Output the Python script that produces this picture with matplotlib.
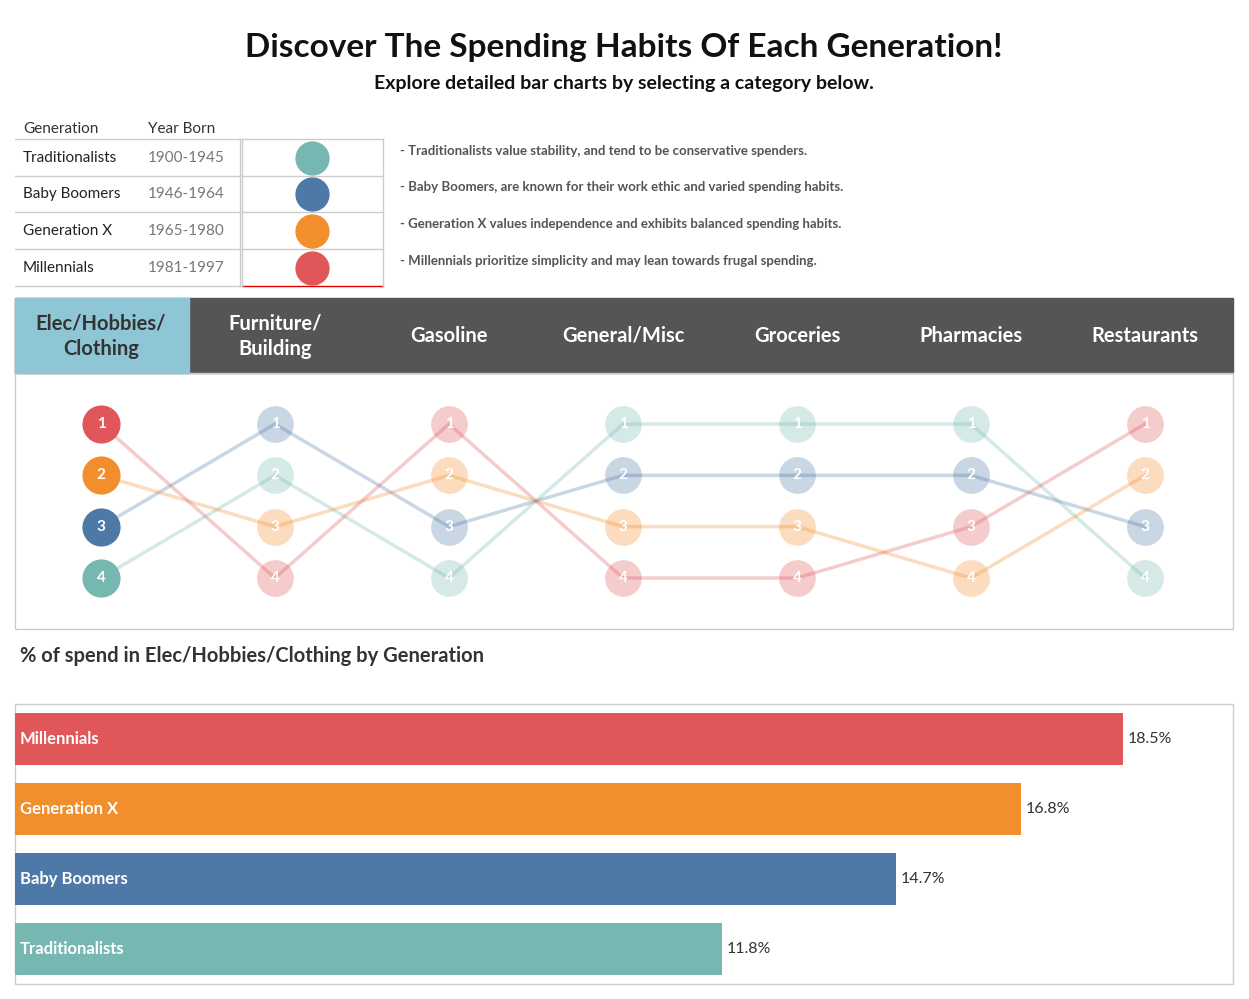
import matplotlib
matplotlib.use("Agg")
import matplotlib.pyplot as plt
from matplotlib.patches import Rectangle
from matplotlib.lines import Line2D

generations = ["Traditionalists", "Baby Boomers", "Generation X", "Millennials"]
years = ["1900-1945", "1946-1964", "1965-1980", "1981-1997"]
colors = ["#76B7B2", "#4E79A7", "#F28E2B", "#E15759"]
descriptions = [
    "- Traditionalists value stability, and tend to be conservative spenders.",
    "- Baby Boomers, are known for their work ethic and varied spending habits.",
    "- Generation X values independence and exhibits balanced spending habits.",
    "- Millennials prioritize simplicity and may lean towards frugal spending.",
]
categories = ["Elec/Hobbies/\nClothing", "Furniture/\nBuilding", "Gasoline", "General/Misc",
              "Groceries", "Pharmacies", "Restaurants"]
# ranks per generation (Trad, Boomers, GenX, Millennials) for each category
ranks = {
    "Traditionalists": [4, 2, 4, 1, 1, 1, 4],
    "Baby Boomers":    [3, 1, 3, 2, 2, 2, 3],
    "Generation X":    [2, 3, 2, 3, 3, 4, 2],
    "Millennials":     [1, 4, 1, 4, 4, 3, 1],
}
bar_labels = ["Millennials", "Generation X", "Baby Boomers", "Traditionalists"]
bar_values = [18.5, 16.8, 14.7, 11.8]
bar_colors = ["#E15759", "#F28E2B", "#4E79A7", "#76B7B2"]

W, H = 1249, 999
fig = plt.figure(figsize=(W / 100, H / 100), dpi=100)
plt.rcParams['font.family'] = ['Lato', 'DejaVu Sans']

def fx(x): return x / W
def fy(y): return 1 - y / H

# overlay axis in pixel coords for decorations
ov = fig.add_axes([0, 0, 1, 1])
ov.set_xlim(0, W); ov.set_ylim(H, 0); ov.axis("off")

ov.text(624, 48, "Discover The Spending Habits Of Each Generation!", ha="center", va="center",
        fontsize=24, fontweight="bold", color="#111")
ov.text(624, 84, "Explore detailed bar charts by selecting a category below.", ha="center",
        va="center", fontsize=14, fontweight="bold", color="#111")

# legend table
ov.text(23, 129, "Generation", fontsize=11, va="center", color="#333")
ov.text(148, 129, "Year Born", fontsize=11, va="center", color="#333")
row_y = [158, 194, 231, 268]
borders = [139, 176, 212, 249, 286]
for b in borders:
    ov.plot([15, 240], [b, b], color="#cccccc", lw=1)
    if b != 286:
        ov.plot([242, 383], [b, b], color="#cccccc", lw=1)
ov.plot([242, 383], [286, 286], color="#E00000", lw=1)
ov.plot([240, 240], [139, 286], color="#cccccc", lw=1)
ov.plot([242, 242], [139, 286], color="#cccccc", lw=1)
ov.plot([383, 383], [139, 286], color="#cccccc", lw=1)
for i, (g, yr, c, d) in enumerate(zip(generations, years, colors, descriptions)):
    y = row_y[i]
    ov.text(23, y, g, fontsize=11, va="center", color="#222")
    ov.text(148, y, yr, fontsize=11, va="center", color="#777")
    ov.scatter([312], [y], s=560, color=c, zorder=3)
    ov.text(400, y - 7, d, fontsize=9.5, va="center", fontweight="bold", color="#555")

# tabs
ov.add_patch(Rectangle((15, 298), 1218, 75, color="#555555", zorder=1))
ov.add_patch(Rectangle((15, 298), 174, 75, color="#8EC6D6", zorder=2))
for i, cat in enumerate(categories):
    ov.text(101 + 174 * i, 336, cat, ha="center", va="center", fontsize=14.5,
            fontweight="bold", color="#333" if i == 0 else "white", zorder=3, linespacing=1.35)

ov.add_patch(Rectangle((15, 373), 1218, 256, fill=False, ec="#cccccc", lw=1))
ov.text(20, 656, "% of spend in Elec/Hobbies/Clothing by Generation", fontsize=14.5,
        fontweight="bold", va="center", color="#333")
ov.add_patch(Rectangle((15, 704), 1218, 280, fill=False, ec="#cccccc", lw=1))

# bump chart
bx = fig.add_axes([fx(15), fy(629), 1218 / W, 255 / H])
bx.set_xlim(-86 / 174, -86 / 174 + 1218 / 174)
bx.set_ylim(4 + 51 / 51.33, 1 - 50 / 51.33)
bx.axis("off")
xs = list(range(len(categories)))
for g, c in zip(generations, colors):
    r = ranks[g]
    bx.plot(xs, r, color=c, alpha=0.3, lw=2.5, zorder=1)
    bx.scatter(xs[1:], r[1:], s=700, color=c, alpha=0.3, lw=0, zorder=2)
    for x, rv in zip(xs[1:], r[1:]):
        bx.text(x, rv, str(rv), ha="center", va="center", color="white", fontsize=11,
                fontweight="bold", zorder=3)
    bx.scatter([0], [r[0]], s=700, color=c, zorder=4)
    bx.text(0, r[0], str(r[0]), ha="center", va="center", color="white", fontsize=11,
            fontweight="bold", zorder=5)

# bars
ax = fig.add_axes([fx(15), fy(984), 1218 / W, 280 / H])
ax.set_xlim(0, 1218 / 59.9)
ax.set_ylim(3.5, -0.5)
ax.axis("off")
ax.barh(range(len(bar_values)), bar_values, height=0.74, color=bar_colors)
for i, (lab, v) in enumerate(zip(bar_labels, bar_values)):
    ax.text(0.08, i, lab, va="center", color="white", fontsize=12, fontweight="bold")
    ax.text(v + 0.08, i, f"{v}%", va="center", color="#333", fontsize=11.5)

fig.savefig("out.png", dpi=100)
